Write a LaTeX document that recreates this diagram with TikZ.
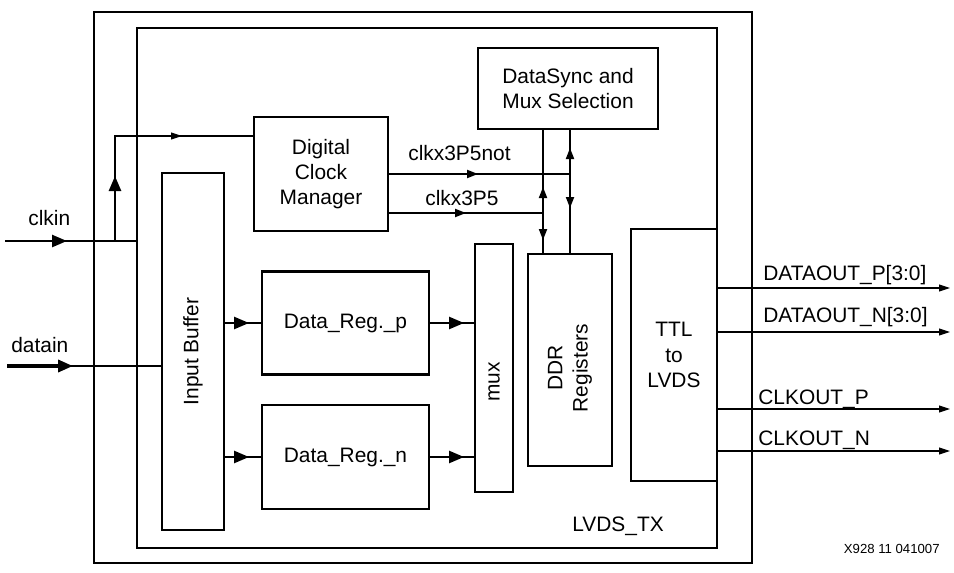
\documentclass[tikz,border=0pt]{standalone}
\usepackage{fontspec}
\setmainfont{Liberation Sans}
\usetikzlibrary{arrows.meta}

\begin{document}
\begin{tikzpicture}[x=0.02cm, y=-0.02cm,
        font=\fontsize{11.9}{14.4}\selectfont,
        blk/.style={draw, line width=1.2pt, align=center, inner sep=0pt},
        frame/.style={draw, line width=1.2pt, inner sep=0pt},
        sig/.style={line width=0.6pt},
        lead/.style={line width=1.4pt, -{Triangle[length=0.3cm, width=0.24cm]}},
        slead/.style={line width=1.1pt, -{Triangle[length=0.22cm, width=0.16cm]}},
        outarr/.style={sig, -{Triangle[length=0.22cm, width=0.14cm]}},
        lbl/.style={anchor=base west, inner sep=0pt}]

        \useasboundingbox (0,0) rectangle (954,572);

        \node[frame, minimum width=13.16cm, minimum height=11.02cm] (chip) at (423,287.5) {};
        \node[frame, minimum width=11.6cm, minimum height=10.4cm] (tx) at (427,288) {};

        \node[blk, minimum width=3.6cm, minimum height=1.62cm] (sync) at (568,88.5) {DataSync and\\Mux Selection};
        \node[blk, minimum width=2.68cm, minimum height=2.28cm] (dcm) at (321,174) {Digital\\Clock\\Manager};
        \node[blk, minimum width=1.24cm, minimum height=7.14cm] (ibuf) at (193,351.5) {\rotatebox{90}{Input Buffer}};
        \node[blk, minimum width=3.34cm, minimum height=2.06cm] (regp) at (345.5,323) {Data\_Reg.\_p};
        \node[blk, minimum width=3.34cm, minimum height=2.08cm] (regn) at (345.5,457) {Data\_Reg.\_n};
        \node[blk, minimum width=0.76cm, minimum height=4.96cm] (mux) at (494,368) {};
        \node (lmux) at (494,382) {\rotatebox{90}{mux}};
        \node[blk, minimum width=1.68cm, minimum height=4.24cm] (ddr) at (570,360) {};
        \node (lddr) at (570,368) {\rotatebox{90}{\begin{tabular}{@{}c@{}}DDR\\Registers\end{tabular}}};
        \node[blk, minimum width=1.72cm, minimum height=5.04cm] (ttl) at (674,355) {TTL\\to\\LVDS};

        \coordinate (clkin) at (5,241);
        \coordinate (clkj) at (115,241);
        \coordinate (clkt) at (115,136);
        \coordinate (datain) at (7,366);
        \coordinate (ckn) at (570,174);
        \coordinate (ckp) at (543,213);

        % clock in
        \draw[sig] (clkin) -- (clkin -| tx.west);
        \draw[lead] (clkin) -- ++(62,0);
        \draw[sig] (clkj) -- (clkt) -- (clkt -| dcm.west);
        \draw[lead] (clkj) -- ++(0,-65);
        \draw[outarr] (clkt) -- ++(67,0);

        % data in
        \draw[sig, line width=1pt] (datain) -- (datain -| ibuf.west);
        \draw[lead, line width=2pt] (datain) -- ++(66,0);

        \draw[sig] (ibuf.east |- regp) -- (regp.west);
        \draw[lead] (ibuf.east |- regp) -- ++(24,0);
        \draw[sig] (ibuf.east |- regn) -- (regn.west);
        \draw[lead] (ibuf.east |- regn) -- ++(24,0);
        \draw[sig] (regp.east) -- (regp.east -| mux.west);
        \draw[lead] (regp.east) -- ++(34,0);
        \draw[sig] (regn.east) -- (regn.east -| mux.west);
        \draw[lead] (regn.east) -- ++(34,0);

        % clocks from the DCM
        \draw[sig] (dcm.east |- ckn) -- (ckn);
        \draw[slead] (dcm.east |- ckn) -- ++(89,0);
        \draw[sig] (dcm.east |- ckp) -- (ckp);
        \draw[slead] (dcm.east |- ckp) -- ++(77,0);

        \draw[sig] (sync.south -| ckp) -- (ddr.north -| ckp);
        \draw[sig] (sync.south -| ckn) -- (ddr.north -| ckn);
        \draw[slead] (ckp) -- ++(0,-26);
        \draw[slead] (ckp) -- ++(0,27);
        \draw[slead] (ckn) -- ++(0,-26);
        \draw[slead] (ckn) -- ++(0,34);

        % outputs
        \coordinate (dop) at (950,288);
        \coordinate (don) at (950,332);
        \coordinate (cop) at (950,409);
        \coordinate (con) at (950,451);
        \draw[outarr] (dop -| ttl.east) -- (dop);
        \draw[outarr] (don -| ttl.east) -- (don);
        \draw[outarr] (cop -| ttl.east) -- (cop);
        \draw[outarr] (con -| ttl.east) -- (con);

        \node[lbl] (lclkin) at (28,225) {clkin};
        \node[lbl] (ldatain) at (11,352) {datain};
        \node[lbl] (lckn) at (408,160) {clkx3P5not};
        \node[lbl] (lckp) at (425,205) {clkx3P5};
        \node[lbl] (ldop) at (763,280) {DATAOUT\_P[3:0]};
        \node[lbl] (ldon) at (763,322) {DATAOUT\_N[3:0]};
        \node[lbl] (lcop) at (758,404) {CLKOUT\_P};
        \node[lbl] (lcon) at (758,445) {CLKOUT\_N};
        \node[lbl] (ltx) at (572,531) {LVDS\_TX};
        \node[anchor=base east, inner sep=0pt, font=\fontsize{7.5}{8}\selectfont] (lfig) at (940,553) {X928 11 041007};

    \end{tikzpicture}
\end{document}
